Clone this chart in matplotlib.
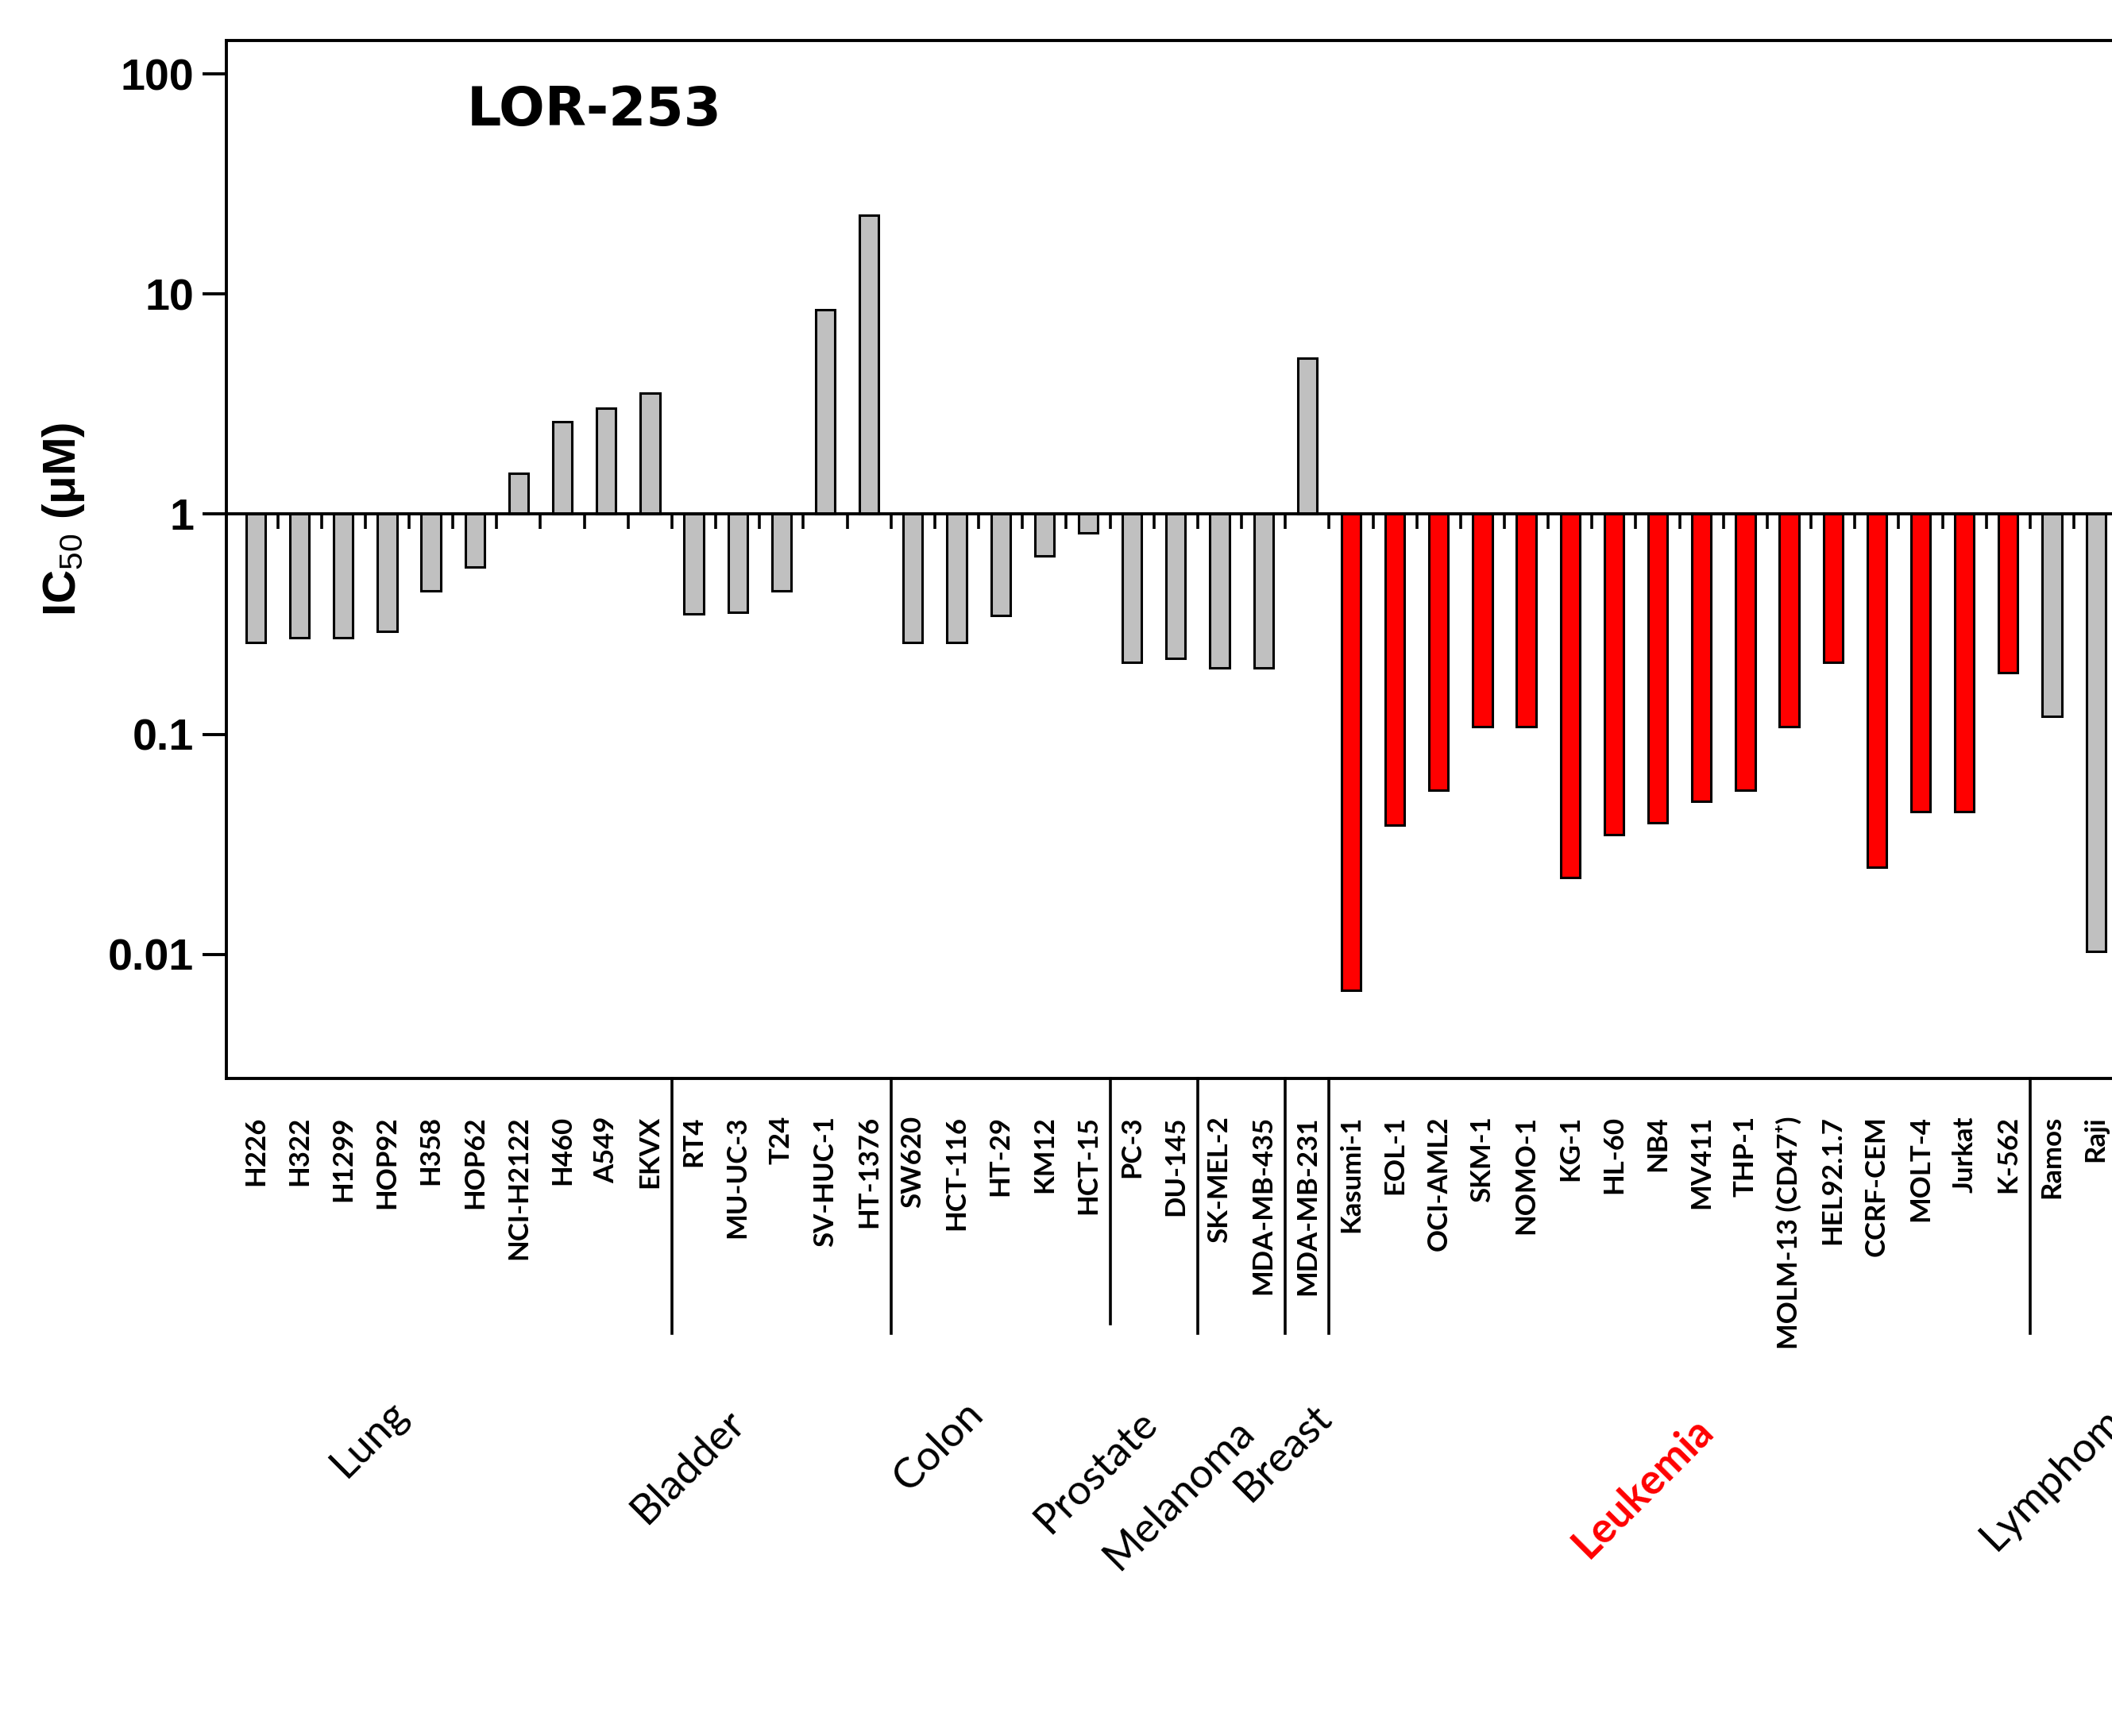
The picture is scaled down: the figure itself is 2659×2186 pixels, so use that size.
import matplotlib
matplotlib.use('Agg')
import matplotlib.pyplot as plt
import matplotlib.transforms as mtransforms
import numpy as np

plt.rcParams['font.family'] = ['Lato', 'DejaVu Sans']
plt.rcParams['mathtext.fontset'] = 'custom'
plt.rcParams['mathtext.rm'] = 'Liberation Sans'
plt.rcParams['mathtext.default'] = 'rm'

# cell lines, left to right
cell_lines = ['H226', 'H322', 'H1299', 'HOP92', 'H358', 'HOP62', 'NCI-H2122', 'H460', 'A549', 'EKVX',
              'RT4', 'MU-UC-3', 'T24', 'SV-HUC-1', 'HT-1376',
              'SW620', 'HCT-116', 'HT-29', 'KM12', 'HCT-15',
              'PC-3', 'DU-145',
              'SK-MEL-2', 'MDA-MB-435',
              'MDA-MB-231',
              'Kasumi-1', 'EOL-1', 'OCI-AML2', 'SKM-1', 'NOMO-1', 'KG-1', 'HL-60', 'NB4', 'MV411',
              'THP-1', 'MOLM-13 (CD47⁺)', 'HEL92.1.7', 'CCRF-CEM', 'MOLT-4', 'Jurkat', 'K-562',
              'Ramos', 'Raji']

# IC50 values (uM)
ic50 = [0.262, 0.274, 0.274, 0.294, 0.448, 0.577, 1.53, 2.64, 3.04, 3.55,
        0.353, 0.358, 0.448, 8.5, 22.8,
        0.262, 0.262, 0.348, 0.646, 0.821,
        0.212, 0.222,
        0.201, 0.201,
        5.12,
        0.0069, 0.0387, 0.0557, 0.108, 0.108, 0.0223, 0.035, 0.0397, 0.0498,
        0.0557, 0.108, 0.212, 0.025, 0.0445, 0.0445, 0.19,
        0.121, 0.0103]

groups = ['Lung', 'Bladder', 'Colon', 'Prostate', 'Melanoma', 'Breast', 'Leukemia', 'Lymphoma']
group_sizes = [10, 5, 5, 2, 2, 1, 16, 2]

# label centres (x in data units, y in figure fraction)
group_label_pos = [(2.59, 0.171), (9.87, 0.155), (15.59, 0.167), (19.19, 0.152),
                   (21.07, 0.139), (23.46, 0.163), (31.67, 0.143), (41.15, 0.152)]

W, H, DPI = 2659, 2186, 200
fig = plt.figure(figsize=(W / DPI, H / DPI), dpi=DPI)
ax = fig.add_axes([285 / W, 1 - 1358 / H, 2464 / W, 1307 / H])

x = np.arange(len(ic50))
colors = []
for g, n in zip(groups, group_sizes):
    colors += ['#FF0000' if g == 'Leukemia' else '#C0C0C0'] * n

vals = np.array(ic50)
ax.bar(x, vals - 1, bottom=1, width=0.44, color=colors, edgecolor='black', linewidth=1.1, zorder=3)

ax.set_yscale('log')
ax.set_ylim(0.002735, 141.8)
ax.set_xlim(-0.67, 44.0)

ax.yaxis.set_minor_locator(matplotlib.ticker.NullLocator())
ax.set_yticks([0.01, 0.1, 1, 10, 100], labels=['0.01', '0.1', '1', '10', '100'],
              fontfamily='Liberation Sans', fontweight='bold', fontsize=20)
ax.tick_params(axis='y', direction='out', length=10.8, width=1.4, pad=4)

# baseline at 1 with ticks between bars
ax.spines['bottom'].set_position(('data', 1))
ax.spines['bottom'].set_zorder(4)
ax.set_xticks(x[:-1] + 0.5)
ax.tick_params(axis='x', direction='out', length=7, width=1.3, labelbottom=False)
for s in ax.spines.values():
    s.set_linewidth(1.4)

# frame bottom carries the cell line names
sec = ax.secondary_xaxis('bottom')
sec.set_xticks(x)
sec.set_xticklabels(cell_lines, rotation=90, fontsize=12.5, fontweight='bold')
sec.tick_params(length=0, pad=17)
sec.spines['bottom'].set_linewidth(1.4)

ax.set_ylabel('IC$_{50}$ (μM)', fontfamily='Liberation Sans', fontweight='bold', fontsize=21)
ax.yaxis.set_label_coords(-0.0714, 0.539)

fig.text(588 / W, 1 - 158 / H, 'LOR-253', fontfamily='DejaVu Sans', fontweight='bold',
         fontsize=24.5, va='baseline', ha='left')

# group separators and names
bounds = np.cumsum(group_sizes)[:-1] - 0.5
tr_ax = mtransforms.blended_transform_factory(ax.transData, ax.transAxes)
for b in bounds:
    end = -0.2364 if b == 19.5 else -0.2456
    ax.plot([b, b], [0, end], color='black', lw=1.3, transform=tr_ax, clip_on=False)

tr_fig = mtransforms.blended_transform_factory(ax.transData, fig.transFigure)
for g, (gx, gy) in zip(groups, group_label_pos):
    red = g == 'Leukemia'
    ax.text(gx, gy, g, transform=tr_fig, rotation=45, rotation_mode='anchor',
            ha='center', va='center', fontsize=19,
            color='#FF0000' if red else 'black', fontweight='bold' if red else 'normal',
            clip_on=False)

fig.savefig('out.png', dpi=DPI)
